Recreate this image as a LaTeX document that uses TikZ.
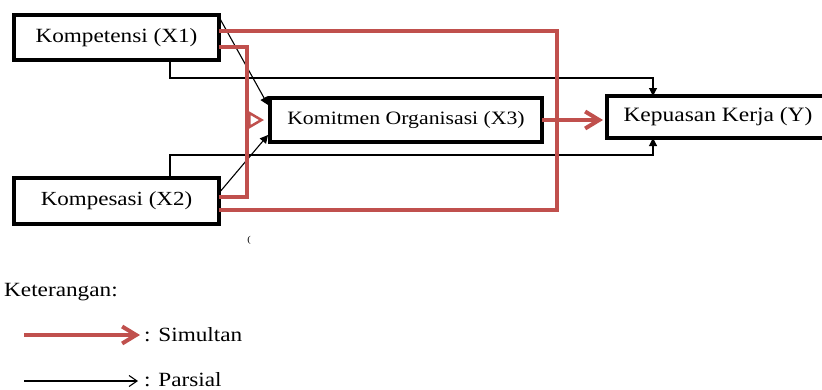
\documentclass[tikz,border=0pt]{standalone}
\usepackage{fontspec}
\setmainfont{Liberation Serif}[FakeStretch=1.15]
\usetikzlibrary{arrows.meta}
\definecolor{simred}{RGB}{192,80,77}
\newcommand\myfs[1]{\fontsize{#1}{#1}\selectfont}
\begin{document}
\begin{tikzpicture}[x=1pt,y=-1pt,
  boxnode/.style={draw=black,line width=3.5pt,fill=white,inner sep=0pt,outer sep=0pt},
  simul/.style={draw=simred,line width=4pt},
  parsial/.style={draw=black,line width=1.1pt},
  redtip/.style={-{Straight Barb[length=14pt,width=17pt,line width=4pt]}},
  redtipin/.style={-{Triangle[open,length=16pt,width=18pt,line width=2.5pt]}},
  blacktip/.style={-{Triangle[length=8pt,width=8pt]}},
  legtext/.style={anchor=base west,inner sep=0pt,font=\myfs{20.2}}
]
\useasboundingbox (0,0) rectangle (822,389);
\fill[white] (0,0) rectangle (822,389);

% nodes
\node[boxnode,minimum width=205pt,minimum height=45pt,font=\myfs{20.2}] (X1) at (116.5,37.5) {Kompetensi (X1)};
\node[boxnode,minimum width=205pt,minimum height=46pt,font=\myfs{20}] (X2) at (116.5,201) {Kompesasi (X2)};
\node[boxnode,minimum width=272pt,minimum height=44pt,font=\myfs{18.9}] (X3) at (406,120) {Komitmen Organisasi (X3)};
\node[boxnode,minimum width=222pt,minimum height=42pt,font=\myfs{20.4}] (Y) at (718,117) {Kepuasan Kerja (Y)};

% helper coordinates
\coordinate (rr) at (557,0);
\coordinate (ri) at (247,0);
\coordinate (bx) at (170,0);
\coordinate (ax) at (653,0);
\coordinate (x1a) at ([yshift=6.5pt]X1.east);
\coordinate (x1b) at ([yshift=-9.5pt]X1.east);
\coordinate (x2a) at ([yshift=-9pt]X2.east);
\coordinate (x2b) at ([yshift=4pt]X2.east);

% partial (black) connectors
\draw[parsial,blacktip] (bx |- X1.south) -- (170,78) -| (ax |- Y.north);
\draw[parsial,blacktip] (bx |- X2.north) -- (170,155) -| (ax |- Y.south);
\draw[parsial,blacktip] ([yshift=-2pt]X1.north east) -- ([xshift=-2pt,yshift=-7pt]X3.north west);
\draw[parsial,blacktip] ([yshift=8pt]X2.east) -- ([xshift=-2pt,yshift=7pt]X3.south west);

% simultaneous (red) connectors
\draw[simul] (x1a) -| (x2a -| rr) -- (x2a);
\draw[simul] (x1b) -| (x2b -| ri) -- (x2b);
\draw[simul,redtipin] (ri |- X3.west) -- ([xshift=-6pt]X3.west);
\draw[simul,redtip] (X3.east) -- ([xshift=-4pt]X3.east -| Y.west);

% stray mark
\node[inner sep=0pt,font=\myfs{9}] (stray) at (249,240) {(};

% legend
\node[legtext] (ket) at (4,296) {Keterangan:};
\coordinate (l1a) at (24,335);
\coordinate (l1b) at (140,335);
\coordinate (l2a) at (24,381);
\coordinate (l2b) at (138,381);
\draw[simul,redtip] (l1a) -- (l1b);
\draw[parsial,-{Straight Barb[length=8pt,width=11pt]}] (l2a) -- (l2b);
\node[legtext] (sim) at (144,341) {: Simultan};
\node[legtext] (par) at (144,386) {: Parsial};
\end{tikzpicture}
\end{document}
